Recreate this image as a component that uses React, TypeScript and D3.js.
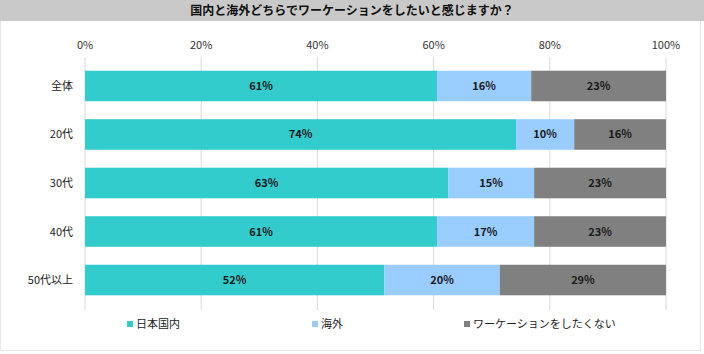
import React, { useEffect, useRef } from "react";
import * as d3 from "d3";

const title = "国内と海外どちらでワーケーションをしたいと感じますか？";
const categories = ["全体", "20代", "30代", "40代", "50代以上"];
const seriesNames = ["日本国内", "海外", "ワーケーションをしたくない"];
const domestic = [60.6, 74.2, 62.5, 60.6, 51.5];
const overseas = [16.2, 10.0, 14.8, 16.7, 19.9];
const noWorkation = [23.2, 15.8, 22.7, 22.7, 28.6];
const ticks = [0, 20, 40, 60, 80, 100];
const colors = ["#33CCCC", "#99CCFF", "#808080"];

export default function App() {
  const svgRef = useRef<SVGSVGElement>(null);

  useEffect(() => {
    const svg = d3.select(svgRef.current);
    svg.selectAll("*").remove();

    const width = 704, height = 354;
    const font = "'Noto Sans CJK JP', sans-serif";

    const rows = categories.map((c, i) => ({
      cat: c,
      v0: domestic[i],
      v1: overseas[i],
      v2: noWorkation[i],
    }));
    const stacked = d3.stack<any>().keys(["v0", "v1", "v2"])(rows);

    const x = d3.scaleLinear().domain([0, 100]).range([85, 666]);
    const y = d3.scaleBand().domain(categories).range([61, 305]).paddingInner(0.37).paddingOuter(0.2);

    // outer frame
    svg.append("rect")
      .attr("x", 0.5).attr("y", 0.5)
      .attr("width", width - 4).attr("height", height - 4)
      .attr("fill", "#fff").attr("stroke", "#e6e6e6");

    // title bar
    svg.append("rect")
      .attr("x", 0).attr("y", 0).attr("width", width).attr("height", 21)
      .attr("fill", "#c9c9c9");
    svg.append("text")
      .attr("x", width / 2).attr("y", 15)
      .attr("text-anchor", "middle")
      .style("font-family", font).style("font-size", "12px").style("font-weight", "bold")
      .attr("fill", "#111")
      .text(title);

    // gridlines + tick labels
    ticks.forEach(t => {
      svg.append("line")
        .attr("x1", x(t)).attr("x2", x(t))
        .attr("y1", 57).attr("y2", 310)
        .attr("stroke", "#d9d9d9");
      svg.append("text")
        .attr("x", x(t)).attr("y", 49)
        .attr("text-anchor", "middle")
        .style("font-family", font).style("font-size", "11px")
        .attr("fill", "#333")
        .text(t + "%");
    });

    // bars
    stacked.forEach((layer, k) => {
      const g = svg.append("g");
      g.selectAll("rect")
        .data(layer)
        .enter()
        .append("rect")
        .attr("x", d => x(d[0]))
        .attr("y", d => y(d.data.cat)!)
        .attr("width", d => x(d[1]) - x(d[0]))
        .attr("height", y.bandwidth())
        .attr("fill", colors[k]);
      g.selectAll("text")
        .data(layer)
        .enter()
        .append("text")
        .attr("x", d => (x(d[0]) + x(d[1])) / 2)
        .attr("y", d => y(d.data.cat)! + y.bandwidth() / 2 + 4)
        .attr("text-anchor", "middle")
        .style("font-family", font).style("font-size", "11px").style("font-weight", "bold")
        .attr("fill", "#1a1a1a")
        .text(d => Math.round(d[1] - d[0]) + "%");
    });

    // category labels
    svg.selectAll("text.cat")
      .data(categories)
      .enter()
      .append("text")
      .attr("class", "cat")
      .attr("x", 73)
      .attr("y", d => y(d)! + y.bandwidth() / 2 + 4)
      .attr("text-anchor", "end")
      .style("font-family", font).style("font-size", "11px")
      .attr("fill", "#222")
      .text(d => d);

    // legend
    const legendX = [127, 312, 464];
    seriesNames.forEach((s, i) => {
      svg.append("rect")
        .attr("x", legendX[i]).attr("y", 321)
        .attr("width", 6).attr("height", 6)
        .attr("fill", colors[i]);
      svg.append("text")
        .attr("x", legendX[i] + 9).attr("y", 328)
        .style("font-family", font).style("font-size", "11px")
        .attr("fill", "#222")
        .text(s);
    });
  }, []);

  return (
    <div style={{ position: "absolute", left: 0, top: 0 }}>
      <svg ref={svgRef} width={704} height={354}></svg>
    </div>
  );
}
